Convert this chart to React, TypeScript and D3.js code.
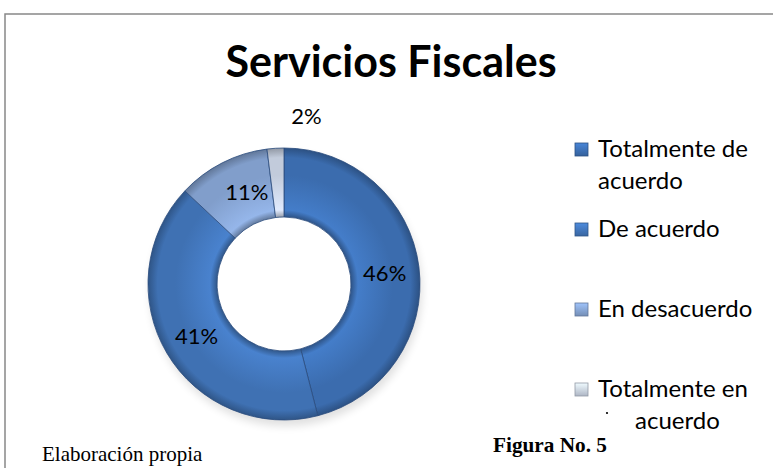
import React from 'react';
import * as d3 from 'd3';

const categories = ['Totalmente de acuerdo', 'De acuerdo', 'En desacuerdo', 'Totalmente en desacuerdo'];
const values = [46, 41, 11, 2];
const labels = ['46%', '41%', '11%', '2%'];
const legendLines = [['Totalmente de', 'acuerdo'], ['De acuerdo'], ['En desacuerdo'], ['Totalmente en', 'acuerdo']];
const colors = ['#3b6cae', '#3f71b3', '#819ecb', '#c2cbdb'];

const W = 773;
const H = 468;
const cx = 284;
const cy = 284;
const outerR = 136;
const innerR = 67;
const font = 'Lato, "Open Sans", sans-serif';

const App = () => {
  const pie = d3.pie<number>().sort(null).value(d => d);
  const arcs = pie(values);
  const arc = d3.arc<d3.PieArcDatum<number>>().innerRadius(innerR).outerRadius(outerR);
  const outArc = d3.arc<d3.PieArcDatum<number>>().innerRadius(outerR + 32).outerRadius(outerR + 32);

  const legendY = d3.scalePoint<number>().domain(d3.range(categories.length)).range([157, 397]);

  // label nudges so they sit like the original (small slice label pushed outside)
  const nudge = [[0, 2], [0, 0], [9, -2], [33, 0]];

  return (
    <svg width={W} height={H} style={{ position: 'absolute', left: 0, top: 0, background: '#fff' }}>
      <defs>
        {colors.map((c, i) => (
          <radialGradient key={i} id={`g${i}`} gradientUnits="userSpaceOnUse" cx={0} cy={0} r={outerR}>
            <stop offset={innerR / outerR} stopColor={d3.color(c)!.darker(0.7).toString()} />
            <stop offset={(innerR + 7) / outerR} stopColor={d3.color(c)!.brighter(0.4).toString()} />
            <stop offset={0.8} stopColor={c} />
            <stop offset={0.93} stopColor={c} />
            <stop offset={1} stopColor={d3.color(c)!.darker(0.8).toString()} />
          </radialGradient>
        ))}
        {colors.map((c, i) => (
          <linearGradient key={i} id={`l${i}`} x1="0" y1="0" x2="0" y2="1">
            <stop offset="0" stopColor={d3.color(c)!.brighter(0.6).toString()} />
            <stop offset="1" stopColor={d3.color(c)!.darker(0.3).toString()} />
          </linearGradient>
        ))}
        <filter id="sh" x="-20%" y="-20%" width="140%" height="140%">
          <feGaussianBlur stdDeviation="4" />
        </filter>
      </defs>
      <rect x={5} y={14} width={W} height={H} fill="none" stroke="#888" strokeWidth={1.5} />
      <text x={391} y={77} textAnchor="middle" fontFamily={font} fontWeight="bold" fontSize={43} fill="#000">
        Servicios Fiscales
      </text>
      <circle cx={cx + 2} cy={cy + 6} r={outerR} fill="#000" opacity={0.12} filter="url(#sh)" />
      <g transform={`translate(${cx},${cy})`}>
        <circle r={innerR} fill="#fff" />
        {arcs.map((a, i) => (
          <path key={i} d={arc(a)!} fill={`url(#g${i})`} stroke="#2b4c7e" strokeWidth={1} strokeOpacity={0.8} />
        ))}
        {arcs.map((a, i) => {
          const p = i === 3 ? outArc.centroid(a) : arc.centroid(a);
          return (
            <text key={i} x={p[0] + nudge[i][0]} y={p[1] + 8 + nudge[i][1]} textAnchor="middle" fontFamily={font} fontSize={22} fill="#000">
              {labels[i]}
            </text>
          );
        })}
      </g>
      {legendLines.map((lines, i) => (
        <g key={i} transform={`translate(575,${legendY(i)})`}>
          <rect x={0} y={-14} width={13} height={13} fill={`url(#l${i})`} stroke={d3.color(colors[i])!.darker(0.8).toString()} strokeWidth={0.8} />
          {lines.map((t, j) => (
            <text key={j} x={j > 0 && i === 3 ? 60 : 23} y={j * 32} fontFamily={font} fontSize={24} fill="#000">
              {t}
            </text>
          ))}
          {i === 3 && <circle cx={32} cy={16} r={1.1} fill="#000" />}
        </g>
      ))}
      <text x={493} y={452} fontFamily='"Liberation Serif", serif' fontWeight="bold" fontSize={21} fill="#000" textLength={114} lengthAdjust="spacingAndGlyphs">
        Figura No. 5
      </text>
      <text x={42} y={461} fontFamily='"Liberation Serif", serif' fontSize={21} fill="#000">
        Elaboración propia
      </text>
    </svg>
  );
};

export default App;
